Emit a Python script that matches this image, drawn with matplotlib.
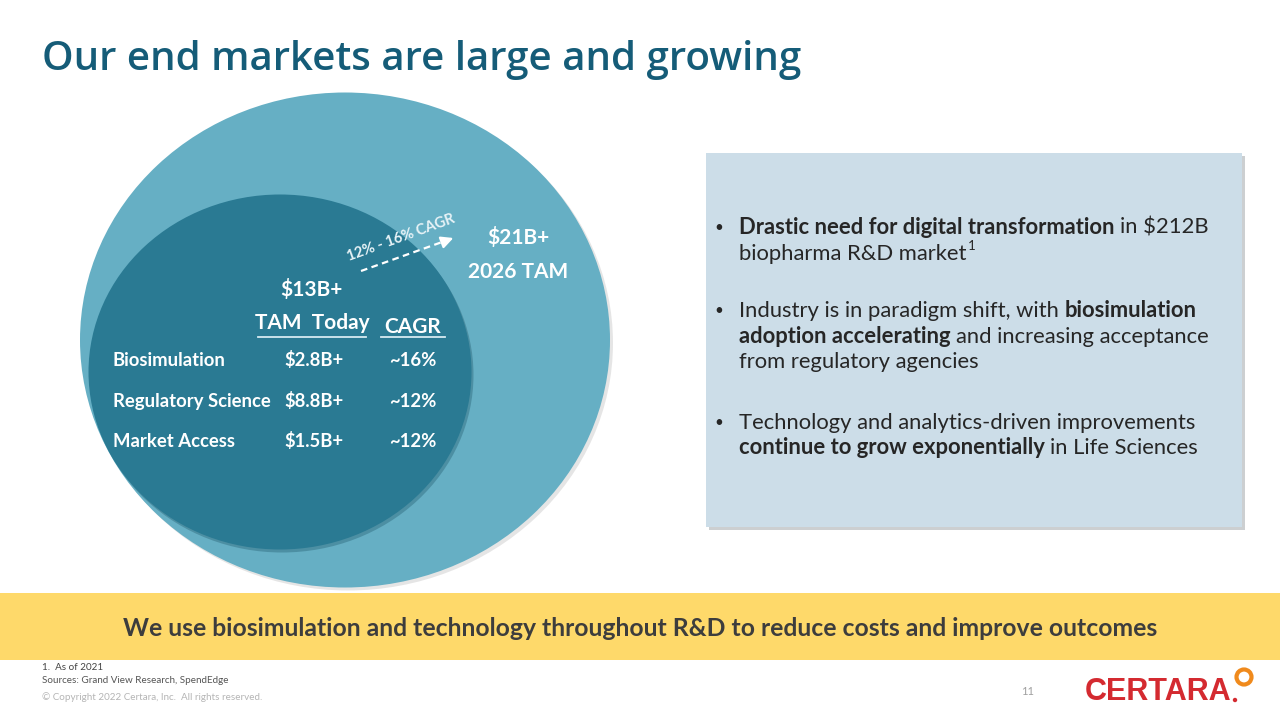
import matplotlib
matplotlib.use("Agg")
import matplotlib.pyplot as plt
from matplotlib.patches import Ellipse, Rectangle, Circle

# Donnees de la diapositive
segments = ["Biosimulation", "Regulatory Science", "Market Access"]
tam_today = ["$2.8B+", "$8.8B+", "$1.5B+"]
cagr = ["~16%", "~12%", "~12%"]
tam_total = "$13B+"
tam_2026 = "$21B+"
cagr_range = "12% - 16% CAGR"

bullets = [
    [[("Drastic need for digital transformation", True), ("in $212B", False)],
     [("biopharma R&D market", False)]],
    [[("Industry is in paradigm shift, with", False), ("biosimulation", True)],
     [("adoption accelerating", True), ("and increasing acceptance", False)],
     [("from regulatory agencies", False)]],
    [[("Technology and analytics-driven improvements", False)],
     [("continue to grow exponentially", True), ("in Life Sciences", False)]],
]
bullet_y = [[234, 260], [317, 343, 368], [429, 454]]

# couleurs
TITLE = "#155c78"
OUTER = "#66afc4"
INNER = "#2a7a93"
BOX = "#ccdde8"
YELLOW = "#fed96a"
BODY = "#262626"

plt.rcParams['font.family'] = ['Lato', 'DejaVu Sans']

fig = plt.figure(figsize=(12.8, 7.2), dpi=100)
ax = fig.add_axes([0, 0, 1, 1])
ax.set_xlim(0, 1280)
ax.set_ylim(720, 0)
ax.axis('off')
renderer = fig.canvas.get_renderer()

# titre
ax.text(42, 70, "Our end markets are large and growing", fontsize=29,
        family="Open Sans", fontweight='semibold', color=TITLE, va='baseline')

# cercles (ombre + remplissage)
ax.add_patch(Ellipse((348, 343), 530, 495, color="#555555", alpha=0.15, lw=0))
ax.add_patch(Ellipse((345, 340), 530, 495, color=OUTER, lw=0))
ax.add_patch(Ellipse((282, 375), 383, 355, color="#1d5466", alpha=0.35, lw=0))
ax.add_patch(Ellipse((280, 372), 383, 355, color=INNER, lw=0))

# en-tetes du tableau
ax.text(311, 296, tam_total, fontsize=15, fontweight='bold', color='white', ha='center', va='baseline')
ax.text(312, 329, "TAM  Today", fontsize=15, fontweight='bold', color='white', ha='center', va='baseline')
ax.text(413, 333, "CAGR", fontsize=15, fontweight='bold', color='white', ha='center', va='baseline')
ax.plot([258, 366], [337, 337], color="#d6eaf2", lw=1.3)
ax.plot([381, 445], [337, 337], color="#d6eaf2", lw=1.3)

row_y = [366, 407, 447]
for i in range(len(segments)):
    ax.text(113, row_y[i], segments[i], fontsize=13.3, fontweight='bold', color='white', va='baseline')
    ax.text(284, row_y[i], tam_today[i], fontsize=13.3, fontweight='bold', color='white', va='baseline')
    ax.text(413, row_y[i], cagr[i], fontsize=13.3, fontweight='bold', color='white', ha='center', va='baseline')

# fleche de croissance
ax.plot([361, 445], [271, 241], color='white', lw=1.6, ls=(0, (3, 2)))
ax.annotate('', xy=(456, 237), xytext=(440, 243),
            arrowprops=dict(arrowstyle='-|>', color='white', lw=1.6, mutation_scale=18))
ax.text(401, 238, cagr_range, fontsize=10.5, fontweight='bold', color='#e8f3f7',
        rotation=20, ha='center', va='center', rotation_mode='anchor')
ax.text(518, 244, tam_2026, fontsize=15, fontweight='bold', color='white', ha='center', va='baseline')
ax.text(518, 278, "2026 TAM", fontsize=15, fontweight='bold', color='white', ha='center', va='baseline')

# encadre de droite
ax.add_patch(Rectangle((709, 156), 536, 374, color="#9aa0a4", alpha=0.5, lw=0))
ax.add_patch(Rectangle((706, 153), 536, 374, color=BOX, lw=0))


def width_of(txt, size, bold):
    t = ax.text(0, 0, txt, fontsize=size, fontweight='bold' if bold else 'normal')
    w = t.get_window_extent(renderer).width
    t.remove()
    return w


body_size = 15.8
space_w = width_of("x x", body_size, False) - width_of("xx", body_size, False)
for b, lines in enumerate(bullets):
    ax.text(719, bullet_y[b][0] - 6, "\u2022", fontsize=11, color=BODY, ha='center', va='center')
    for l, runs in enumerate(lines):
        x = 739
        for txt, bold in runs:
            t = ax.text(x, bullet_y[b][l], txt, fontsize=body_size, color=BODY, va='baseline',
                        fontweight='bold' if bold else 'normal')
            x += t.get_window_extent(renderer).width + space_w
        if b == 0 and l == 1:
            ax.text(x - space_w + 1, bullet_y[b][l] - 10, "1", fontsize=9.5, color=BODY, va='baseline')

# bandeau jaune
ax.add_patch(Rectangle((0, 593), 1280, 67, color=YELLOW, lw=0))
ax.text(640, 636, "We use biosimulation and technology throughout R&D to reduce costs and improve outcomes",
        fontsize=17.8, fontweight='bold', color="#3d3d3d", ha='center', va='baseline')

# pied de page
ax.text(42, 670, "1.  As of 2021", fontsize=7.1, color="#444444", va='baseline')
ax.text(42, 683, "Sources: Grand View Research, SpendEdge", fontsize=7.1, color="#555555", va='baseline')
ax.text(42, 700, "\u00a9 Copyright 2022 Certara, Inc.  All rights reserved.", fontsize=7.1,
        color="#b5b5b5", va='baseline')
ax.text(1028, 695, "11", fontsize=8, color="#a0a0a0", ha='center', va='baseline')

# logo
ax.text(1085, 700, "CERTARA", fontsize=22, family="Liberation Sans", fontweight='bold',
        color="#d42a30", va='baseline')
ax.add_patch(Circle((1244, 677), 7.5, fill=False, ec="#f08a1c", lw=3))
ax.add_patch(Circle((1235, 700), 1.5, color="#d42a30"))

fig.savefig("out.png", dpi=100)
